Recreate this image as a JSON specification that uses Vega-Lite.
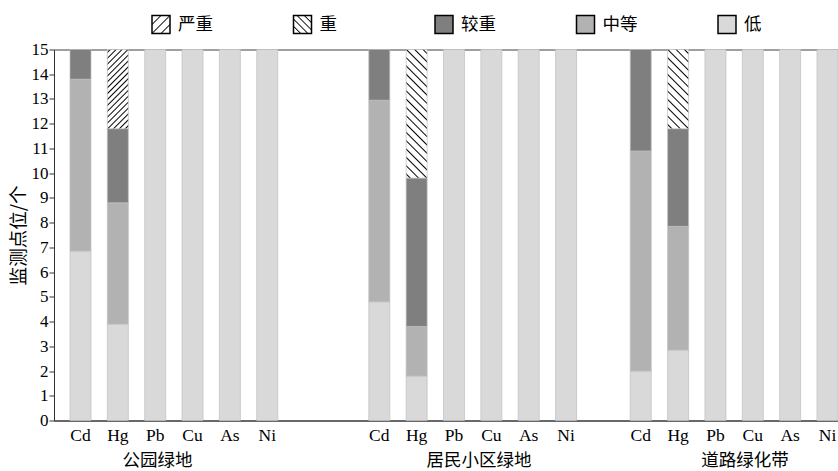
{
 "$schema": "https://vega.github.io/schema/vega-lite/v6.json",
 "width": 784,
 "height": 371,
 "autosize": {"type": "none"},
 "padding": {"left": 54, "top": 49.5, "right": 0, "bottom": 50.5},
 "background": "white",
 "config": {
  "view": {"stroke": "#404040", "strokeWidth": 1},
  "axis": {"domainColor": "#333", "tickColor": "#333", "labelColor": "#000", "titleColor": "#000", "grid": false}
 },
 "data": {"values": [
  {"slot":"公园绿地|Cd","level":"低","rank":1,"value":6.85},
  {"slot":"公园绿地|Cd","level":"中等","rank":2,"value":6.95},
  {"slot":"公园绿地|Cd","level":"较重","rank":3,"value":1.2},
  {"slot":"公园绿地|Hg","level":"低","rank":1,"value":3.9},
  {"slot":"公园绿地|Hg","level":"中等","rank":2,"value":4.9},
  {"slot":"公园绿地|Hg","level":"较重","rank":3,"value":3.0},
  {"slot":"公园绿地|Hg","level":"严重","rank":5,"value":3.2},
  {"slot":"公园绿地|Pb","level":"低","rank":1,"value":15},
  {"slot":"公园绿地|Cu","level":"低","rank":1,"value":15},
  {"slot":"公园绿地|As","level":"低","rank":1,"value":15},
  {"slot":"公园绿地|Ni","level":"低","rank":1,"value":15},
  {"slot":"居民小区绿地|Cd","level":"低","rank":1,"value":4.8},
  {"slot":"居民小区绿地|Cd","level":"中等","rank":2,"value":8.15},
  {"slot":"居民小区绿地|Cd","level":"较重","rank":3,"value":2.05},
  {"slot":"居民小区绿地|Hg","level":"低","rank":1,"value":1.8},
  {"slot":"居民小区绿地|Hg","level":"中等","rank":2,"value":2.0},
  {"slot":"居民小区绿地|Hg","level":"较重","rank":3,"value":6.0},
  {"slot":"居民小区绿地|Hg","level":"重","rank":4,"value":5.2},
  {"slot":"居民小区绿地|Pb","level":"低","rank":1,"value":15},
  {"slot":"居民小区绿地|Cu","level":"低","rank":1,"value":15},
  {"slot":"居民小区绿地|As","level":"低","rank":1,"value":15},
  {"slot":"居民小区绿地|Ni","level":"低","rank":1,"value":15},
  {"slot":"道路绿化带|Cd","level":"低","rank":1,"value":2.0},
  {"slot":"道路绿化带|Cd","level":"中等","rank":2,"value":8.9},
  {"slot":"道路绿化带|Cd","level":"较重","rank":3,"value":4.1},
  {"slot":"道路绿化带|Hg","level":"低","rank":1,"value":2.85},
  {"slot":"道路绿化带|Hg","level":"中等","rank":2,"value":5.0},
  {"slot":"道路绿化带|Hg","level":"较重","rank":3,"value":3.95},
  {"slot":"道路绿化带|Hg","level":"重","rank":4,"value":3.2},
  {"slot":"道路绿化带|Pb","level":"低","rank":1,"value":15},
  {"slot":"道路绿化带|Cu","level":"低","rank":1,"value":15},
  {"slot":"道路绿化带|As","level":"低","rank":1,"value":15},
  {"slot":"道路绿化带|Ni","level":"低","rank":1,"value":15}
 ]},
 "layer": [
  {
   "mark": {"type": "bar", "stroke": "#bfbfbf", "strokeWidth": 0.7},
   "encoding": {
    "x": {"field": "slot", "type": "nominal",
     "scale": {"domain": ["公园绿地|Cd","公园绿地|Hg","公园绿地|Pb","公园绿地|Cu","公园绿地|As","公园绿地|Ni","gap1","gap2","居民小区绿地|Cd","居民小区绿地|Hg","居民小区绿地|Pb","居民小区绿地|Cu","居民小区绿地|As","居民小区绿地|Ni","gap3","道路绿化带|Cd","道路绿化带|Hg","道路绿化带|Pb","道路绿化带|Cu","道路绿化带|As","道路绿化带|Ni"],
      "paddingInner": 0.4378, "paddingOuter": 0.214, "align": 1},
     "axis": {"title": null, "ticks": false, "labelAngle": 0, "labelOverlap": false, "labelFont": "Liberation Serif", "labelFontSize": 17.5, "labelPadding": 6,
      "labelExpr": "indexof(datum.value, '|') >= 0 ? split(datum.value, '|')[1] : ''"}
    },
    "y": {"field": "value", "type": "quantitative", "stack": "zero",
     "scale": {"domain": [0, 15], "nice": false},
     "axis": {"title": "监测点位/个", "values": [0,1,2,3,4,5,6,7,8,9,10,11,12,13,14,15], "labelOverlap": false, "tickSize": 5, "labelPadding": 1, "labelFont": "Liberation Serif", "labelFontSize": 17,
      "titleFont": "Noto Sans CJK SC", "titleFontSize": 18.5, "titleFontWeight": "normal", "titlePadding": 3}
    },
    "order": {"field": "rank", "type": "quantitative"},
    "fill": {
     "field": "level", "type": "nominal",
     "scale": {"domain": ["严重","重","较重","中等","低"], "range": [
      {"expr": "{gradient: 'linear', x1: 0, y1: 0, x2: 1, y2: 1, stops: [{offset: 0, color: '#fff'}, {offset: 0.215, color: '#fff'}, {offset: 0.25, color: '#000'}, {offset: 0.285, color: '#fff'}, {offset: 0.465, color: '#fff'}, {offset: 0.5, color: '#000'}, {offset: 0.535, color: '#fff'}, {offset: 0.715, color: '#fff'}, {offset: 0.75, color: '#000'}, {offset: 0.785, color: '#fff'}, {offset: 1, color: '#fff'}]}"},
      {"expr": "{gradient: 'linear', x1: 0, y1: 1, x2: 1, y2: 0, stops: [{offset: 0, color: '#fff'}, {offset: 0.165, color: '#fff'}, {offset: 0.2, color: '#000'}, {offset: 0.235, color: '#fff'}, {offset: 0.365, color: '#fff'}, {offset: 0.4, color: '#000'}, {offset: 0.435, color: '#fff'}, {offset: 0.565, color: '#fff'}, {offset: 0.6, color: '#000'}, {offset: 0.635, color: '#fff'}, {offset: 0.765, color: '#fff'}, {offset: 0.8, color: '#000'}, {offset: 0.835, color: '#fff'}, {offset: 1, color: '#fff'}]}"},
      "#7f7f7f","#b2b2b2","#d9d9d9"]},
     "condition": [
      {"test": "datum.slot === '公园绿地|Hg' && datum.level === '严重'", "value": {"gradient": "linear", "x1": 0, "y1": 0, "x2": 0.3136, "y2": 1.1821, "stops": [
       {"offset":0,"color":"#fff"},
       {"offset":0.0154,"color":"#fff"},{"offset":0.0294,"color":"#000"},{"offset":0.0434,"color":"#fff"},
       {"offset":0.0742,"color":"#fff"},{"offset":0.0882,"color":"#000"},{"offset":0.1022,"color":"#fff"},
       {"offset":0.1331,"color":"#fff"},{"offset":0.1471,"color":"#000"},{"offset":0.1611,"color":"#fff"},
       {"offset":0.1919,"color":"#fff"},{"offset":0.2059,"color":"#000"},{"offset":0.2199,"color":"#fff"},
       {"offset":0.2507,"color":"#fff"},{"offset":0.2647,"color":"#000"},{"offset":0.2787,"color":"#fff"},
       {"offset":0.3095,"color":"#fff"},{"offset":0.3235,"color":"#000"},{"offset":0.3375,"color":"#fff"},
       {"offset":0.3684,"color":"#fff"},{"offset":0.3824,"color":"#000"},{"offset":0.3964,"color":"#fff"},
       {"offset":0.4272,"color":"#fff"},{"offset":0.4412,"color":"#000"},{"offset":0.4552,"color":"#fff"},
       {"offset":0.486,"color":"#fff"},{"offset":0.5,"color":"#000"},{"offset":0.514,"color":"#fff"},
       {"offset":0.5448,"color":"#fff"},{"offset":0.5588,"color":"#000"},{"offset":0.5728,"color":"#fff"},
       {"offset":0.6036,"color":"#fff"},{"offset":0.6176,"color":"#000"},{"offset":0.6316,"color":"#fff"},
       {"offset":0.6625,"color":"#fff"},{"offset":0.6765,"color":"#000"},{"offset":0.6905,"color":"#fff"},
       {"offset":0.7213,"color":"#fff"},{"offset":0.7353,"color":"#000"},{"offset":0.7493,"color":"#fff"},
       {"offset":0.7801,"color":"#fff"},{"offset":0.7941,"color":"#000"},{"offset":0.8081,"color":"#fff"},
       {"offset":0.8389,"color":"#fff"},{"offset":0.8529,"color":"#000"},{"offset":0.8669,"color":"#fff"},
       {"offset":0.8978,"color":"#fff"},{"offset":0.9118,"color":"#000"},{"offset":0.9258,"color":"#fff"},
       {"offset":0.9566,"color":"#fff"},{"offset":0.9706,"color":"#000"},{"offset":0.9846,"color":"#fff"},
       {"offset":1,"color":"#fff"}]}},
      {"test": "datum.slot === '居民小区绿地|Hg' && datum.level === '重'", "value": {"gradient": "linear", "x1": 0, "y1": 1, "x2": 0.185, "y2": -0.1331, "stops": [
       {"offset":0,"color":"#fff"},
       {"offset":0.0183,"color":"#fff"},{"offset":0.0278,"color":"#000"},{"offset":0.0373,"color":"#fff"},
       {"offset":0.0738,"color":"#fff"},{"offset":0.0833,"color":"#000"},{"offset":0.0928,"color":"#fff"},
       {"offset":0.1294,"color":"#fff"},{"offset":0.1389,"color":"#000"},{"offset":0.1484,"color":"#fff"},
       {"offset":0.1849,"color":"#fff"},{"offset":0.1944,"color":"#000"},{"offset":0.2039,"color":"#fff"},
       {"offset":0.2405,"color":"#fff"},{"offset":0.25,"color":"#000"},{"offset":0.2595,"color":"#fff"},
       {"offset":0.2961,"color":"#fff"},{"offset":0.3056,"color":"#000"},{"offset":0.3151,"color":"#fff"},
       {"offset":0.3516,"color":"#fff"},{"offset":0.3611,"color":"#000"},{"offset":0.3706,"color":"#fff"},
       {"offset":0.4072,"color":"#fff"},{"offset":0.4167,"color":"#000"},{"offset":0.4262,"color":"#fff"},
       {"offset":0.4627,"color":"#fff"},{"offset":0.4722,"color":"#000"},{"offset":0.4817,"color":"#fff"},
       {"offset":0.5183,"color":"#fff"},{"offset":0.5278,"color":"#000"},{"offset":0.5373,"color":"#fff"},
       {"offset":0.5738,"color":"#fff"},{"offset":0.5833,"color":"#000"},{"offset":0.5928,"color":"#fff"},
       {"offset":0.6294,"color":"#fff"},{"offset":0.6389,"color":"#000"},{"offset":0.6484,"color":"#fff"},
       {"offset":0.6849,"color":"#fff"},{"offset":0.6944,"color":"#000"},{"offset":0.7039,"color":"#fff"},
       {"offset":0.7405,"color":"#fff"},{"offset":0.75,"color":"#000"},{"offset":0.7595,"color":"#fff"},
       {"offset":0.7961,"color":"#fff"},{"offset":0.8056,"color":"#000"},{"offset":0.8151,"color":"#fff"},
       {"offset":0.8516,"color":"#fff"},{"offset":0.8611,"color":"#000"},{"offset":0.8706,"color":"#fff"},
       {"offset":0.9072,"color":"#fff"},{"offset":0.9167,"color":"#000"},{"offset":0.9262,"color":"#fff"},
       {"offset":0.9627,"color":"#fff"},{"offset":0.9722,"color":"#000"},{"offset":0.9817,"color":"#fff"},
       {"offset":1,"color":"#fff"}]}},
      {"test": "datum.slot === '道路绿化带|Hg' && datum.level === '重'", "value": {"gradient": "linear", "x1": 0, "y1": 1, "x2": 0.3136, "y2": -0.1821, "stops": [
       {"offset":0,"color":"#fff"},
       {"offset":0.0277,"color":"#fff"},{"offset":0.0417,"color":"#000"},{"offset":0.0557,"color":"#fff"},
       {"offset":0.111,"color":"#fff"},{"offset":0.125,"color":"#000"},{"offset":0.139,"color":"#fff"},
       {"offset":0.1943,"color":"#fff"},{"offset":0.2083,"color":"#000"},{"offset":0.2223,"color":"#fff"},
       {"offset":0.2777,"color":"#fff"},{"offset":0.2917,"color":"#000"},{"offset":0.3057,"color":"#fff"},
       {"offset":0.361,"color":"#fff"},{"offset":0.375,"color":"#000"},{"offset":0.389,"color":"#fff"},
       {"offset":0.4443,"color":"#fff"},{"offset":0.4583,"color":"#000"},{"offset":0.4723,"color":"#fff"},
       {"offset":0.5277,"color":"#fff"},{"offset":0.5417,"color":"#000"},{"offset":0.5557,"color":"#fff"},
       {"offset":0.611,"color":"#fff"},{"offset":0.625,"color":"#000"},{"offset":0.639,"color":"#fff"},
       {"offset":0.6943,"color":"#fff"},{"offset":0.7083,"color":"#000"},{"offset":0.7223,"color":"#fff"},
       {"offset":0.7777,"color":"#fff"},{"offset":0.7917,"color":"#000"},{"offset":0.8057,"color":"#fff"},
       {"offset":0.861,"color":"#fff"},{"offset":0.875,"color":"#000"},{"offset":0.889,"color":"#fff"},
       {"offset":0.9443,"color":"#fff"},{"offset":0.9583,"color":"#000"},{"offset":0.9723,"color":"#fff"},
       {"offset":1,"color":"#fff"}]}}
     ],
     "legend": {
      "title": null, "orient": "none", "legendX": 97, "legendY": -35, "direction": "horizontal", "columns": 5, "gridAlign": "all",
      "columnPadding": 77.5, "symbolType": "square", "symbolSize": 324, "symbolStrokeWidth": 1.5, "symbolStrokeColor": "#000",
      "labelFont": "Liberation Serif, Noto Sans CJK SC", "labelFontSize": 17.5, "labelColor": "#000", "labelOffset": 7, "labelLimit": 200,
      "encode": {"symbols": {"update": {"stroke": {"value": "#000"}, "strokeWidth": {"value": 1.5}}}}
     }
    }
   }
  },
  {
   "data": {"values": [{"slot": "公园绿地|Pb", "group": "公园绿地"}]},
   "mark": {"type": "text", "font": "Noto Sans CJK SC", "fontSize": 17.5, "baseline": "middle", "dy": 225.5, "color": "#000"},
   "encoding": {
    "x": {"field": "slot", "type": "nominal", "bandPosition": 0.61, "title": null},
    "text": {"field": "group"}
   }
  },
  {
   "data": {"values": [{"slot": "居民小区绿地|Cu", "group": "居民小区绿地"}]},
   "mark": {"type": "text", "font": "Noto Sans CJK SC", "fontSize": 17.5, "baseline": "middle", "dy": 225.5, "color": "#000"},
   "encoding": {
    "x": {"field": "slot", "type": "nominal", "bandPosition": -0.088, "title": null},
    "text": {"field": "group"}
   }
  },
  {
   "data": {"values": [{"slot": "道路绿化带|Cu", "group": "道路绿化带"}]},
   "mark": {"type": "text", "font": "Noto Sans CJK SC", "fontSize": 17.5, "baseline": "middle", "dy": 225.5, "color": "#000"},
   "encoding": {
    "x": {"field": "slot", "type": "nominal", "bandPosition": 0.13, "title": null},
    "text": {"field": "group"}
   }
  }
 ]
}
